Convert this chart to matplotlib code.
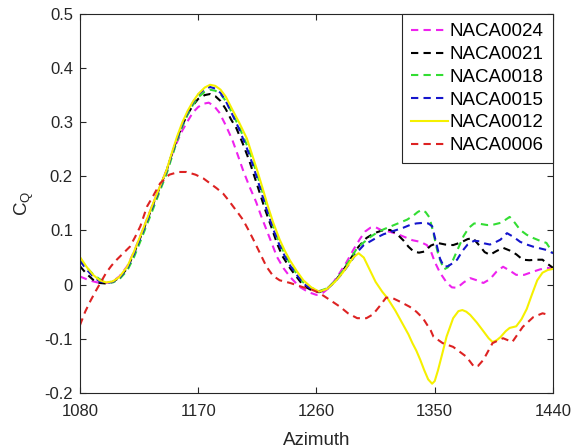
import matplotlib
matplotlib.use('Agg')
import matplotlib.pyplot as plt

plt.rcParams['font.family'] = ['Liberation Sans', 'DejaVu Sans']
plt.rcParams['mathtext.default'] = 'regular'
plt.rcParams['axes.unicode_minus'] = False

# NACA0024
az_24 = [1080, 1085, 1090, 1095, 1100, 1105, 1110, 1116, 1121, 1126, 1131, 1136, 1141, 1146, 1150,
         1154, 1158, 1162, 1166, 1170, 1174, 1178, 1182, 1186, 1191, 1196, 1200, 1204, 1209, 1214,
         1218, 1222, 1226, 1230, 1235, 1240, 1247, 1254, 1260, 1265, 1270, 1276, 1283, 1288, 1293,
         1297, 1301, 1305, 1309, 1315, 1321, 1327, 1333, 1339, 1344, 1347, 1350, 1354, 1359, 1363,
         1367, 1372, 1377, 1382, 1387, 1392, 1397, 1402, 1407, 1412, 1418, 1425, 1430, 1435, 1440]
cq_24 = [0.015, 0.010, 0.006, 0.003, 0.003, 0.006, 0.015, 0.034, 0.060, 0.090, 0.121, 0.152, 0.182, 0.212, 0.240,
         0.264, 0.285, 0.302, 0.318, 0.328, 0.334, 0.336, 0.330, 0.318, 0.294, 0.267, 0.240, 0.212, 0.181, 0.153,
         0.126, 0.101, 0.076, 0.051, 0.030, 0.014, -0.004, -0.014, -0.019, -0.015, -0.005, 0.015, 0.042, 0.064, 0.084,
         0.098, 0.105, 0.106, 0.101, 0.098, 0.094, 0.088, 0.082, 0.079, 0.073, 0.062, 0.042, 0.022, 0.004, -0.005,
         -0.006, 0.004, 0.012, 0.008, 0.003, 0.010, 0.024, 0.033, 0.026, 0.018, 0.018, 0.024, 0.028, 0.031, 0.030]

# NACA0021
az_21 = [1080, 1085, 1090, 1095, 1100, 1105, 1110, 1116, 1121, 1126, 1131, 1136, 1141, 1146, 1150,
         1154, 1158, 1162, 1166, 1170, 1175, 1179, 1183, 1187, 1191, 1195, 1199, 1204, 1209, 1213,
         1217, 1221, 1226, 1230, 1234, 1240, 1245, 1250, 1256, 1262, 1268, 1274, 1280, 1286, 1292,
         1298, 1304, 1310, 1316, 1321, 1326, 1330, 1334, 1338, 1342, 1347, 1352, 1358, 1364, 1370,
         1375, 1379, 1384, 1388, 1392, 1397, 1402, 1407, 1412, 1417, 1422, 1427, 1432, 1436, 1440]
cq_21 = [0.034, 0.020, 0.009, 0.003, 0.002, 0.005, 0.013, 0.030, 0.057, 0.087, 0.118, 0.150, 0.181, 0.211, 0.241,
         0.270, 0.295, 0.315, 0.331, 0.343, 0.350, 0.352, 0.348, 0.339, 0.324, 0.305, 0.289, 0.260, 0.228, 0.198,
         0.168, 0.138, 0.104, 0.076, 0.053, 0.030, 0.014, -0.002, -0.010, -0.014, -0.008, 0.006, 0.025, 0.048, 0.070,
         0.086, 0.095, 0.100, 0.101, 0.094, 0.082, 0.070, 0.061, 0.059, 0.061, 0.072, 0.077, 0.074, 0.073, 0.078,
         0.084, 0.086, 0.072, 0.060, 0.055, 0.062, 0.068, 0.063, 0.056, 0.046, 0.045, 0.046, 0.046, 0.038, 0.031]

# NACA0018
az_18 = [1080, 1085, 1090, 1095, 1100, 1105, 1110, 1116, 1121, 1126, 1131, 1136, 1141, 1146, 1150,
         1154, 1158, 1162, 1166, 1170, 1175, 1179, 1183, 1187, 1191, 1196, 1201, 1207, 1211, 1215,
         1219, 1223, 1227, 1232, 1236, 1240, 1245, 1250, 1256, 1262, 1268, 1274, 1280, 1286, 1291,
         1296, 1301, 1306, 1311, 1317, 1323, 1329, 1334, 1337, 1340, 1343, 1346, 1349, 1352, 1354,
         1357, 1360, 1364, 1368, 1372, 1376, 1380, 1385, 1390, 1395, 1400, 1404, 1407, 1411, 1415,
         1420, 1425, 1430, 1435, 1440]
cq_18 = [0.047, 0.032, 0.019, 0.010, 0.005, 0.004, 0.010, 0.026, 0.050, 0.080, 0.111, 0.142, 0.174, 0.205, 0.236,
         0.266, 0.292, 0.314, 0.332, 0.346, 0.356, 0.360, 0.358, 0.352, 0.339, 0.316, 0.292, 0.258, 0.232, 0.202,
         0.170, 0.138, 0.108, 0.076, 0.056, 0.038, 0.020, 0.004, -0.006, -0.012, -0.007, 0.006, 0.025, 0.048, 0.068,
         0.078, 0.088, 0.096, 0.102, 0.108, 0.114, 0.120, 0.128, 0.134, 0.138, 0.134, 0.124, 0.095, 0.062, 0.046,
         0.028, 0.032, 0.046, 0.068, 0.090, 0.105, 0.113, 0.112, 0.110, 0.111, 0.114, 0.120, 0.125, 0.114, 0.101,
         0.092, 0.086, 0.081, 0.077, 0.058]

# NACA0015
az_15 = [1080, 1085, 1090, 1095, 1100, 1105, 1110, 1116, 1121, 1126, 1131, 1136, 1141, 1146, 1150,
         1154, 1158, 1162, 1166, 1170, 1175, 1179, 1183, 1187, 1191, 1196, 1201, 1207, 1211, 1215,
         1219, 1223, 1227, 1232, 1236, 1240, 1245, 1250, 1256, 1262, 1268, 1274, 1280, 1286, 1291,
         1296, 1301, 1306, 1311, 1316, 1321, 1326, 1331, 1336, 1341, 1345, 1348, 1350, 1352, 1354,
         1357, 1360, 1364, 1367, 1371, 1375, 1380, 1384, 1388, 1392, 1396, 1400, 1405, 1410, 1415,
         1420, 1425, 1430, 1435, 1440]
cq_15 = [0.044, 0.028, 0.015, 0.006, 0.003, 0.005, 0.012, 0.030, 0.056, 0.086, 0.117, 0.148, 0.179, 0.210, 0.241,
         0.270, 0.296, 0.318, 0.336, 0.351, 0.361, 0.365, 0.362, 0.354, 0.339, 0.314, 0.288, 0.252, 0.225, 0.195,
         0.163, 0.132, 0.103, 0.072, 0.052, 0.035, 0.018, 0.002, -0.008, -0.013, -0.008, 0.005, 0.022, 0.042, 0.060,
         0.073, 0.080, 0.087, 0.093, 0.097, 0.101, 0.105, 0.110, 0.113, 0.114, 0.113, 0.108, 0.088, 0.068, 0.048,
         0.033, 0.034, 0.040, 0.046, 0.062, 0.074, 0.081, 0.080, 0.076, 0.074, 0.078, 0.083, 0.095, 0.088, 0.079,
         0.074, 0.070, 0.067, 0.064, 0.058]

# NACA0012
az_12 = [1080, 1085, 1090, 1095, 1100, 1105, 1110, 1116, 1121, 1126, 1131, 1136, 1141, 1146, 1150,
         1154, 1158, 1162, 1166, 1170, 1175, 1179, 1183, 1187, 1191, 1196, 1201, 1207, 1211, 1215,
         1219, 1223, 1227, 1232, 1236, 1240, 1245, 1250, 1256, 1262, 1268, 1274, 1280, 1284, 1288,
         1292, 1296, 1300, 1305, 1310, 1314, 1320, 1325, 1330, 1333, 1336, 1339, 1342, 1345, 1348,
         1350, 1352.5, 1356, 1359, 1364, 1368, 1371, 1374, 1377, 1382, 1387, 1391, 1394, 1397, 1400,
         1404, 1407, 1412, 1416, 1420, 1424, 1428, 1432, 1436, 1440]
cq_12 = [0.051, 0.033, 0.018, 0.008, 0.004, 0.006, 0.014, 0.033, 0.060, 0.090, 0.121, 0.152, 0.182, 0.212, 0.244,
         0.274, 0.300, 0.321, 0.338, 0.352, 0.364, 0.369, 0.367, 0.360, 0.347, 0.323, 0.300, 0.270, 0.240, 0.210,
         0.178, 0.145, 0.115, 0.083, 0.062, 0.044, 0.025, 0.008, -0.005, -0.013, -0.008, 0.005, 0.022, 0.036, 0.050,
         0.058, 0.050, 0.030, 0.005, -0.013, -0.025, -0.048, -0.070, -0.092, -0.108, -0.122, -0.139, -0.158, -0.175, -0.183,
         -0.178, -0.158, -0.125, -0.096, -0.062, -0.049, -0.047, -0.050, -0.056, -0.070, -0.086, -0.099, -0.106, -0.103, -0.097,
         -0.086, -0.080, -0.077, -0.064, -0.045, -0.018, 0.008, 0.022, 0.027, 0.029]

# NACA0006
az_06 = [1080, 1084, 1088, 1092, 1096, 1100, 1104, 1108, 1113, 1118, 1122, 1126, 1131, 1136, 1141,
         1148, 1155, 1161, 1168, 1174, 1179, 1184, 1189, 1193, 1197, 1201, 1204, 1208, 1212, 1217,
         1222, 1227, 1232, 1240, 1250, 1256, 1260, 1265, 1270, 1278, 1284, 1291, 1298, 1303, 1308,
         1313, 1318, 1324, 1331, 1336, 1341, 1347, 1349, 1356, 1364, 1374, 1380, 1383, 1387, 1394,
         1402, 1409, 1417, 1425, 1432, 1437]
cq_06 = [-0.075, -0.050, -0.030, -0.012, 0.005, 0.022, 0.035, 0.046, 0.058, 0.070, 0.088, 0.108, 0.144, 0.165, 0.187,
         0.203, 0.208, 0.208, 0.203, 0.196, 0.187, 0.178, 0.168, 0.156, 0.143, 0.130, 0.120, 0.102, 0.083, 0.058,
         0.033, 0.016, 0.008, 0.003, -0.005, -0.009, -0.013, -0.020, -0.028, -0.041, -0.053, -0.062, -0.062, -0.055, -0.040,
         -0.024, -0.025, -0.032, -0.041, -0.050, -0.062, -0.085, -0.096, -0.108, -0.115, -0.133, -0.152, -0.150, -0.139, -0.108,
         -0.099, -0.106, -0.078, -0.060, -0.053, -0.056]

x_ticks = [1080, 1170, 1260, 1350, 1440]
y_ticks = [-0.2, -0.1, 0, 0.1, 0.2, 0.3, 0.4, 0.5]
y_ticklabels = ['-0.2', '-0.1', '0', '0.1', '0.2', '0.3', '0.4', '0.5']

fig = plt.figure(figsize=(5.71, 4.47), dpi=100)
ax = fig.add_axes([0.140, 0.121, 0.8285, 0.848])

dash = (3.5, 2.5)
ax.plot(az_24, cq_24, color='#ee22ee', lw=1.5, dashes=dash, label='NACA0024')
ax.plot(az_21, cq_21, color='black', lw=1.5, dashes=dash, label='NACA0021')
ax.plot(az_18, cq_18, color='#33dd33', lw=1.5, dashes=dash, label='NACA0018')
ax.plot(az_15, cq_15, color='#1515cc', lw=1.5, dashes=dash, label='NACA0015')
ax.plot(az_12, cq_12, color='#f5f000', lw=1.5, label='NACA0012')
ax.plot(az_06, cq_06, color='#dd2222', lw=1.5, dashes=dash, label='NACA0006')

ax.set_xlim(1080, 1440)
ax.set_ylim(-0.2, 0.5)
ax.set_xticks(x_ticks)
ax.set_xticklabels([str(t) for t in x_ticks])
ax.set_yticks(y_ticks)
ax.set_yticklabels(y_ticklabels)
ax.tick_params(axis='both', direction='in', length=4, width=0.8, labelsize=12, colors='#262626',
               top=True, right=True)
ax.tick_params(axis='x', pad=8)
ax.tick_params(axis='y', pad=5)
for s in ax.spines.values():
    s.set_color('#262626')
    s.set_linewidth(0.8)

ax.set_xlabel('Azimuth', fontsize=13.5, color='#262626', labelpad=9)
ax.set_ylabel('C$_Q$', fontsize=13.5, color='#262626', labelpad=6)

leg = ax.legend(loc='upper right', fontsize=13.5, borderaxespad=0, fancybox=False,
                framealpha=1, edgecolor='#262626', handlelength=1.95, handletextpad=0.1,
                borderpad=0.5, labelspacing=0.3)
leg.get_frame().set_linewidth(0.8)

plt.savefig('out.png', dpi=100)
